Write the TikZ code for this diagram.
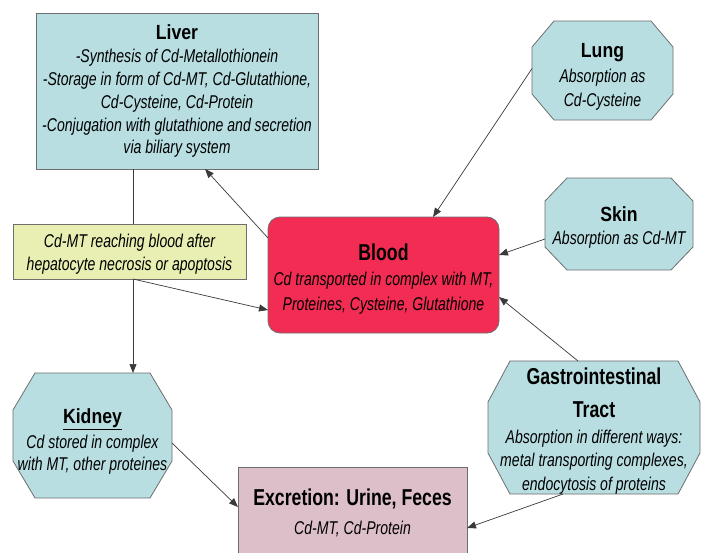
\documentclass[tikz,border=0pt]{standalone}
\usepackage{fontspec}
\setmainfont[FakeStretch=0.76]{Liberation Sans}
\newfontfamily\hbigfam[FakeStretch=0.77]{Liberation Sans}
\newfontfamily\hsmallfam[FakeStretch=0.86]{Liberation Sans}
\usetikzlibrary{arrows.meta,calc}
\definecolor{cyanfill}{HTML}{B8DEE1}
\definecolor{bloodfill}{HTML}{F22C52}
\definecolor{excfill}{HTML}{DDBFC9}
\definecolor{ylwfill}{HTML}{E9EEB2}
\definecolor{edgegray}{HTML}{6E6E6E}
\definecolor{linegray}{HTML}{3A3A3A}
\pgfdeclarelayer{background}
\pgfsetlayers{background,main}
\newcommand{\bodyfont}{\fontsize{18.5}{22.7}\selectfont\itshape}
\newcommand{\headA}[1]{{\hsmallfam\fontsize{20.5}{23}\selectfont\upshape\bfseries #1}}
\newcommand{\headB}[1]{{\hbigfam\fontsize{23}{27}\selectfont\upshape\bfseries #1}}
% octagon drawn behind a named rectangular node
\newcommand{\octagonbehind}[3]{%
  \begin{pgfonlayer}{background}
  \filldraw[octdraw] ($(#1.north west)+(#2,0)$) -- ($(#1.north east)+(-#2,0)$)
    -- ($(#1.north east)+(0,#3)$) -- ($(#1.south east)+(0,-#3)$)
    -- ($(#1.south east)+(-#2,0)$) -- ($(#1.south west)+(#2,0)$)
    -- ($(#1.south west)+(0,-#3)$) -- ($(#1.north west)+(0,#3)$) -- cycle;
  \end{pgfonlayer}}
\begin{document}
\begin{tikzpicture}[x=1pt,y=-1pt,
  base/.style={draw=edgegray,line width=0.8pt,inner sep=0pt,outer sep=0pt,
    align=center,font=\bodyfont},
  recbox/.style={base,rectangle},
  octbox/.style={base,rectangle,draw=none},
  octdraw/.style={draw=edgegray,line width=0.8pt,fill=cyanfill},
  conn/.style={draw=linegray,line width=0.7pt,
    -{Triangle[length=9pt,width=7pt]}}]
\begin{pgfonlayer}{background}
\fill[white] (0,0) rectangle (701,552);
\end{pgfonlayer}
\useasboundingbox (0,0) rectangle (701,552);

\node[recbox,fill=cyanfill,minimum width=282pt,minimum height=156pt] (liver) at (177,91)
 {\headA{Liver}\\[1pt]
  -Synthesis of Cd-Metallothionein\\
  -Storage in form of Cd-MT, Cd-Glutathione,\\
  Cd-Cysteine, Cd-Protein\\
  -Conjugation with glutathione and secretion\\
  via biliary system};

\node[octbox,minimum width=141pt,minimum height=99pt,
  font=\fontsize{18.5}{24.5}\selectfont\itshape] (lung) at (602.5,70.5)
 {\rule{0pt}{27pt}\headA{Lung}\\ Absorption as\\ Cd-Cysteine};
\octagonbehind{lung}{22}{26}

\node[octbox,minimum width=148pt,minimum height=92pt,
  font=\fontsize{18.5}{23}\selectfont\itshape] (skin) at (619,224)
 {\rule{0pt}{21pt}\headA{Skin}\\ Absorption as Cd-MT};
\octagonbehind{skin}{22}{23}

\node[recbox,fill=bloodfill,rounded corners=12pt,minimum width=231pt,minimum height=116pt,
  font=\fontsize{18.5}{25}\selectfont\itshape] (blood) at (383.5,275)
 {\rule{0pt}{24pt}\headB{Blood}\\
  Cd transported in complex with MT,\\
  Proteines, Cysteine, Glutathione};

\node[octbox,minimum width=159pt,minimum height=125pt,
  font=\fontsize{18.5}{21.5}\selectfont\itshape] (kidney) at (92.5,435.5)
 {\rule{0pt}{26pt}\headA{\underline{Kidney}}\\[4pt] Cd stored in complex\\ with MT, other proteines};
\octagonbehind{kidney}{22}{37}

\node[octbox,minimum width=212pt,minimum height=125pt,
  font=\fontsize{18.5}{23.3}\selectfont\itshape] (gi) at (594,427.5)
 {\rule{0pt}{24pt}\headB{Gastrointestinal}\\[9pt] \headB{Tract}\\[3pt]
  Absorption in different ways:\\
  metal transporting complexes,\\
  endocytosis of proteins};
\octagonbehind{gi}{22}{41}

\node[recbox,fill=excfill,minimum width=229pt,minimum height=91pt,
  font=\fontsize{18.5}{29}\selectfont\itshape] (exc) at (352.5,512.5)
 {\headB{Excretion: Urine, Feces}\\ Cd-MT, Cd-Protein};

% liver to kidney passes behind the yellow box
\coordinate (lvx) at ($(liver.south west)+(97,0)$);
\draw[conn] (lvx) -- (lvx |- kidney.north);

\node[recbox,fill=ylwfill,minimum width=233pt,minimum height=55pt] (ylw) at (129.5,251.5)
 {\rule{0pt}{19pt}Cd-MT reaching blood after\\ hepatocyte necrosis or apoptosis};

\draw[conn] ($(blood.north west)+(0,21)$) -- ($(liver.south west)+(169,0)$);
\draw[conn] ($(ylw.south west)+(120,0)$) -- ($(blood.south west)+(0,-23)$);
\draw[conn] ($(lung.west)+(0,-2)$) -- ($(blood.north west)+(165,0)$);
\draw[conn] ($(skin.west)+(0,15)$) -- ($(blood.north east)+(0,38)$);
\draw[conn] ($(gi.north)+(-16,0)$) -- ($(blood.south east)+(0,-36)$);
\draw[conn] ($(kidney.east)+(0,7.5)$) -- ($(exc.north west)+(0,40)$);
\draw[conn] ($(gi.south)+(-31,0)$) -- ($(exc.north east)+(0,61)$);
\end{tikzpicture}
\end{document}
